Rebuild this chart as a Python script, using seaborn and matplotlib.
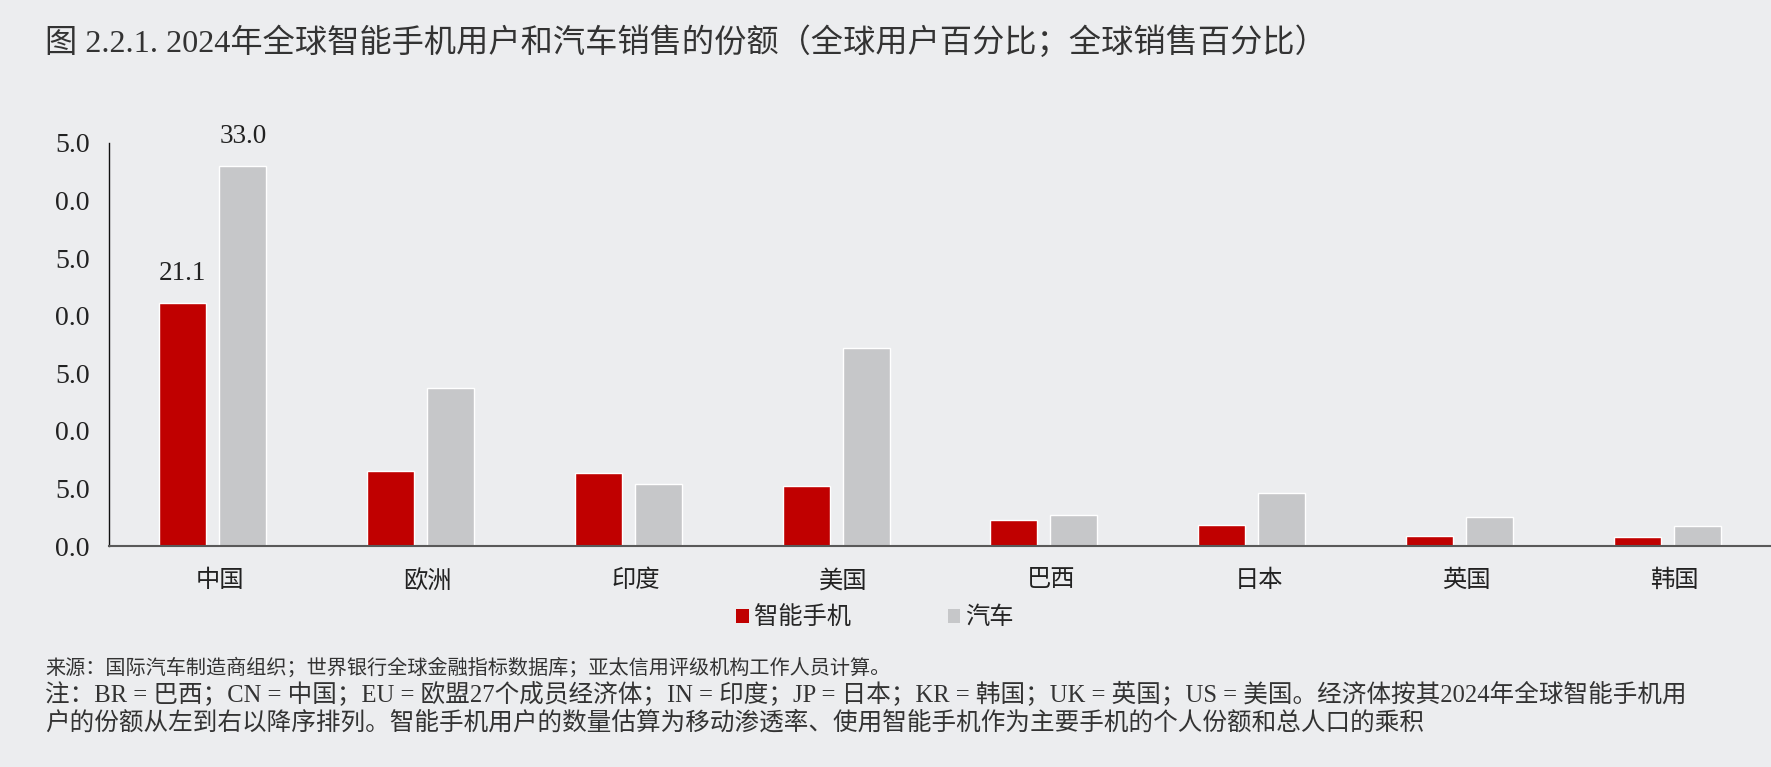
import numpy as np
import pandas as pd
import seaborn as sns
import matplotlib.pyplot as plt
import matplotlib.transforms as mtransforms
from matplotlib.patches import Patch

# data
economies = ["中国", "欧洲", "印度", "美国", "巴西", "日本", "英国", "韩国"]
smartphone_share = [21.1, 6.5, 6.3, 5.2, 2.3, 1.8, 0.9, 0.8]
car_share = [33.0, 13.7, 5.4, 17.2, 2.7, 4.6, 2.5, 1.7]
series_names = ["智能手机", "汽车"]
y_ticks = [0, 5, 10, 15, 20, 25, 30, 35]
# the reference shows the tick labels clipped to their last three characters
y_tick_labels = ["0.0", "5.0", "0.0", "5.0", "0.0", "5.0", "0.0", "5.0"]

title = "图 2.2.1. 2024年全球智能手机用户和汽车销售的份额（全球用户百分比；全球销售百分比）"
source = "来源：国际汽车制造商组织；世界银行全球金融指标数据库；亚太信用评级机构工作人员计算。"
note = ("注：BR = 巴西；CN = 中国；EU = 欧盟27个成员经济体；IN = 印度；JP = 日本；KR = 韩国；UK = 英国；US = 美国。经济体按其2024年全球智能手机用\n"
        "户的份额从左到右以降序排列。智能手机用户的数量估算为移动渗透率、使用智能手机作为主要手机的个人份额和总人口的乘积")

df = pd.DataFrame({
    "economy": economies * 2,
    "series": [series_names[0]] * len(economies) + [series_names[1]] * len(economies),
    "share": smartphone_share + car_share,
})

bg = "#ECEDEF"
red = "#C00000"
grey = "#C6C7C9"

sns.set_theme(style="white")
plt.rcParams["font.family"] = ["Liberation Serif", "Noto Sans CJK SC", "DejaVu Sans"]
plt.rcParams["axes.unicode_minus"] = False

fig = plt.figure(figsize=(17.71, 7.67), dpi=100, facecolor=bg)
ax = fig.add_axes([109 / 1771, 221 / 767, 1 - 109 / 1771, (624 - 221) / 767])
ax.set_facecolor(bg)

sns.barplot(
    data=df, x="economy", y="share", hue="series",
    palette=[red, grey], width=0.577, gap=0.216,
    saturation=1, ax=ax, legend=False,
)

ax.set_ylim(0, 35)
ax.set_xlim(-0.5, len(economies) - 0.5)
ax.set_yticks(y_ticks)
ax.set_yticklabels(y_tick_labels)
ax.tick_params(axis="y", length=0, pad=14, labelsize=20, labelcolor="#222222")
ax.tick_params(axis="x", length=0, pad=17, labelsize=17.5, labelcolor="#222222")
ax.set_xlabel("")
ax.set_ylabel("")
# category labels sit slightly right of the bar groups in the reference
shift = mtransforms.ScaledTranslation(7 / 100, 0, fig.dpi_scale_trans)
for lab in ax.get_xticklabels():
    lab.set_transform(lab.get_transform() + shift)

for side in ["top", "right"]:
    ax.spines[side].set_visible(False)
ax.spines["left"].set_color("#111111")
ax.spines["left"].set_linewidth(1.0)
ax.spines["bottom"].set_color("#595959")
ax.spines["bottom"].set_linewidth(1.5)

# value labels only for China
for cont, val in zip(ax.containers, [smartphone_share[0], car_share[0]]):
    bar = cont.patches[0]
    ax.annotate(f"{val:.1f}", (bar.get_x() + bar.get_width() / 2, bar.get_height()),
                xytext=(0, 12), textcoords="offset points",
                ha="center", va="bottom", fontsize=19.5, color="#222222")

handles = [Patch(facecolor=red, edgecolor="none"), Patch(facecolor=grey, edgecolor="none")]
fig.legend(handles, series_names, loc="center", bbox_to_anchor=(0.494, 1 - 618 / 767),
           ncol=2, frameon=False, fontsize=17.5, handlelength=0.5, handleheight=0.5,
           handletextpad=0.2, columnspacing=4.0)

fig.text(45 / 1771, 1 - 43 / 767, title, fontsize=23.2, color="#333333", va="center", ha="left")
fig.text(45 / 1771, 1 - 668 / 767, source, fontsize=14.5, color="#333333", va="center", ha="left")
fig.text(45 / 1771, 1 - 708 / 767, note, fontsize=17.7, color="#333333", va="center", ha="left",
         linespacing=1.2)

fig.savefig("out.png", dpi=100, facecolor=bg)
